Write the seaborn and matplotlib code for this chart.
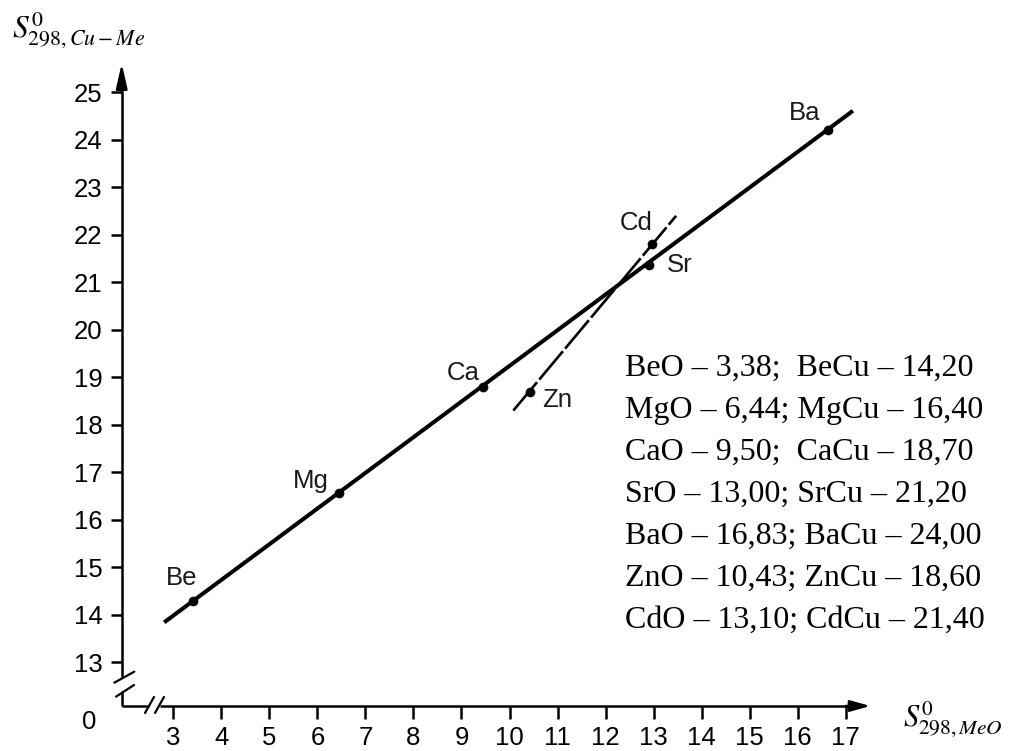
import matplotlib
matplotlib.use("Agg")
import matplotlib.pyplot as plt
import seaborn as sns
import pandas as pd

# ---- data ----
elements = ["Be", "Mg", "Ca", "Sr", "Ba", "Zn", "Cd"]
s_meo = [3.42, 6.46, 9.44, 12.91, 16.64, 10.43, 12.96]
s_cume = [14.30, 16.56, 18.79, 21.36, 24.21, 18.70, 21.80]

main_line_x = [2.81, 17.15]
main_line_y = [13.84, 24.61]
dash_line_x = [10.08, 13.47]
dash_line_y = [18.30, 22.40]

x_ticks = list(range(3, 18))
y_ticks = list(range(13, 26))

table_lines = [
    "BeO – 3,38;  BeCu – 14,20",
    "MgO – 6,44; MgCu – 16,40",
    "CaO – 9,50;  CaCu – 18,70",
    "SrO – 13,00; SrCu – 21,20",
    "BaO – 16,83; BaCu – 24,00",
    "ZnO – 10,43; ZnCu – 18,60",
    "CdO – 13,10; CdCu – 21,40",
]

y_label = r"$S^{0}_{298,Cu-Me}$"
x_label = r"$S^{0}_{298,MeO}$"

# ---- styling ----
sns.set_theme(style="white", rc={"text.color": "black", "axes.labelcolor": "black",
                                 "xtick.color": "black", "ytick.color": "black",
                                 "xtick.bottom": True, "ytick.left": True})
plt.rcParams["font.family"] = ["Liberation Sans", "DejaVu Sans"]
plt.rcParams["mathtext.fontset"] = "stix"

label_offsets = {  # points, label centre relative to point
    "Be": (-8.4, 16.1), "Mg": (-20.4, 8.9), "Ca": (-14, 10.5), "Sr": (22.1, 0),
    "Ba": (-16.8, 12), "Zn": (19.7, -6), "Cd": (-10.8, 15.1),
}

W, H = 1014, 751
fig = plt.figure(figsize=(W / 100, H / 100), dpi=100)
ax = fig.add_axes([100 / W, 11 / H, 780 / W, 690 / H])
ax.set_xlim(1.4739, 17.714)
ax.set_ylim(11.364, 25.890)

x0, y0 = 1.926, 12.08          # axis origin (broken axes)
x_tip, y_tip = 17.51, 25.61    # arrow tips
axlw = 1.8

df_pts = pd.DataFrame({"el": elements, "x": s_meo, "y": s_cume})

# lines
sns.lineplot(x=main_line_x, y=main_line_y, ax=ax, color="black", lw=2.9,
             solid_capstyle="butt", zorder=3)
sns.lineplot(x=dash_line_x, y=dash_line_y, ax=ax, color="black", lw=1.9,
             linestyle=(0, (14, 1.3)), zorder=2)
sns.scatterplot(data=df_pts, x="x", y="y", ax=ax, color="black", s=42,
                edgecolor="black", linewidth=0.5, zorder=5)

for el, xv, yv in zip(elements, s_meo, s_cume):
    dx, dy = label_offsets[el]
    ax.annotate(el, (xv, yv), xytext=(dx, dy), textcoords="offset points",
                ha="center", va="center", fontsize=18.5, color="#1a1a1a")

# axes with breaks
for side in ["top", "right"]:
    ax.spines[side].set_visible(False)
ax.spines["left"].set_position(("data", x0))
ax.spines["bottom"].set_position(("data", y0))
for side in ["left", "bottom"]:
    ax.spines[side].set_linewidth(axlw)
    ax.spines[side].set_color("black")
    ax.spines[side].set_capstyle("butt")
ax.spines["left"].set_bounds(12.686, 25.3)
ax.spines["bottom"].set_bounds(2.713, 17.3)

# lower pieces of axes below / left of the break
ax.plot([x0, x0], [y0, 12.398], color="black", lw=axlw, solid_capstyle="butt", clip_on=False)
ax.plot([x0, 2.504], [y0, y0], color="black", lw=axlw, solid_capstyle="butt", clip_on=False)
# break slashes (y axis)
ax.plot([x0 - 0.154, x0 + 0.262], [12.571, 12.802], color="black", lw=1.6, clip_on=False)
ax.plot([x0 - 0.119, x0 + 0.256], [12.276, 12.522], color="black", lw=1.6, clip_on=False)
# break slashes (x axis)
ax.plot([2.411, 2.598], [y0 - 0.147, y0 + 0.189], color="black", lw=1.6, clip_on=False)
ax.plot([2.619, 2.806], [y0 - 0.147, y0 + 0.189], color="black", lw=1.6, clip_on=False)

# arrows
ax.annotate("", xy=(x0, y_tip), xytext=(x0, 25.0),
            arrowprops=dict(arrowstyle="-|>,head_length=15,head_width=3.4", mutation_scale=1,
                            lw=axlw, color="black", shrinkA=0, shrinkB=0), annotation_clip=False)
ax.annotate("", xy=(x_tip, y0), xytext=(17.0, y0),
            arrowprops=dict(arrowstyle="-|>,head_length=12,head_width=3.4", mutation_scale=1,
                            lw=axlw, color="black", shrinkA=0, shrinkB=0), annotation_clip=False)

ax.set_xticks(x_ticks)
ax.set_yticks(y_ticks)
ax.set_xticklabels([str(t) for t in x_ticks])
ax.set_yticklabels([str(t) for t in y_ticks])
ax.tick_params(axis="y", left=True, length=8, width=axlw, direction="out", labelsize=18.5, pad=6)
ax.tick_params(axis="x", bottom=True, length=9.4, width=axlw, direction="out", labelsize=18.5, pad=5)
ax.set_xlabel("")
ax.set_ylabel("")
ax.grid(False)

ax.annotate("0", (x0, y0), xytext=(-23.5, -11.3), textcoords="offset points",
            ha="center", va="center", fontsize=18.5, annotation_clip=False)

# axis titles
fig.text(12 / W, 1 - 38 / H, y_label, fontsize=22.5, va="baseline", ha="left")
fig.text(903 / W, 1 - 727 / H, x_label, fontsize=22, va="baseline", ha="left")

# table of values
for i, line in enumerate(table_lines):
    fig.text(625 / W, 1 - (376 + i * 42.05) / H, line, fontsize=23,
             family=["Liberation Serif", "DejaVu Serif"], va="baseline", ha="left")

fig.savefig("out.png", dpi=100)
